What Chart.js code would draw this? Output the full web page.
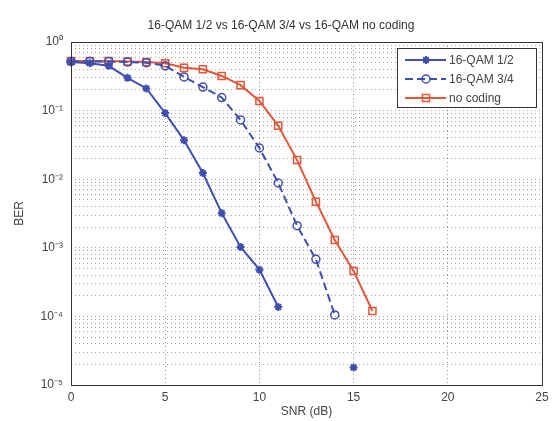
<!DOCTYPE html>
<html>
<head>
<meta charset="utf-8">
<script src="https://cdn.jsdelivr.net/npm/chart.js@4/dist/chart.umd.min.js"></script>
<style>
  body { margin: 0; background: #fff; }
  #ber_chart { display: block; }
</style>
</head>
<body>
<canvas id="ber_chart" width="557" height="421"></canvas>
<script>
// SNR (dB) and BER
var snrDb = [0, 1, 2, 3, 4, 5, 6, 7, 8, 9, 10, 11, 12, 13, 14, 15, 16];
var ber12 = [0.51, 0.49, 0.45, 0.30, 0.21, 0.092, 0.037, 0.0123, 0.0032, 0.00103, 0.00048, 0.000137, null, null, null, 0.000018, null];
var ber34 = [0.52, 0.52, 0.52, 0.51, 0.50, 0.45, 0.31, 0.22, 0.155, 0.073, 0.0285, 0.0088, 0.0021, 0.00068, 0.000105];
var berNoCoding = [0.53, 0.53, 0.53, 0.52, 0.51, 0.49, 0.42, 0.40, 0.32, 0.235, 0.138, 0.06, 0.019, 0.0047, 0.0013, 0.00046, 0.00012];

var xTicks = [0, 5, 10, 15, 20, 25];
var yDecades = [-5, -4, -3, -2, -1, 0];

var seriesNames = ['16-QAM 1/2', '16-QAM 3/4', 'no coding'];

function toPoints(vals) {
    var pts = [];
    for (let i = 0; i < vals.length; i++) {
        pts.push({ x: snrDb[i], y: vals[i] });
    }
    return pts;
}

var sup = { '-': '\u207B', '0': '\u2070', '1': '\u00B9', '2': '\u00B2', '3': '\u00B3', '4': '\u2074', '5': '\u2075' };
function powLabel(e) {
    var s = String(e), out = '';
    for (let i = 0; i < s.length; i++) out += sup[s[i]];
    return '10' + out;
}

// all log grid values: 1..9 x each decade
var yGrid = [];
for (let d = 0; d < yDecades.length; d++) {
    let e = yDecades[d];
    if (e === 0) { yGrid.push(1); break; }
    for (let k = 1; k <= 9; k++) yGrid.push(k * Math.pow(10, e));
}

var blue = '#3f4fb0';
var red = '#e2563a';
var fontFam = '"Liberation Sans", Arial, sans-serif';

// axes box + legend box
var boxPlugin = {
    id: 'boxPlugin',
    afterDraw: function (chart) {
        var ctx = chart.ctx, a = chart.chartArea;
        ctx.save();
        ctx.strokeStyle = '#333';
        ctx.lineWidth = 1;
        ctx.strokeRect(Math.round(a.left) + 0.5, Math.round(a.top) + 0.5, Math.round(a.right - a.left), Math.round(a.bottom - a.top));

        // legend
        var lx = 397, ly = 48, lw = 139, lh = 59;
        ctx.fillStyle = '#fff';
        ctx.fillRect(lx, ly, lw, lh);
        ctx.strokeRect(lx + 0.5, ly + 0.5, lw, lh);
        var rows = [60, 79, 98];
        ctx.font = '12px ' + fontFam;
        ctx.textBaseline = 'middle';
        chart.data.datasets.forEach(function (ds, i) {
            var y = rows[i];
            ctx.strokeStyle = ds.borderColor;
            ctx.lineWidth = ds.borderWidth;
            ctx.setLineDash(ds.borderDash || []);
            ctx.beginPath();
            ctx.moveTo(405, y);
            ctx.lineTo(446, y);
            ctx.stroke();
            ctx.setLineDash([]);
            ctx.fillStyle = ds.pointBackgroundColor;
            ctx.strokeStyle = ds.pointBorderColor;
            ctx.lineWidth = ds.pointBorderWidth;
            Chart.helpers.drawPoint(ctx, {
                pointStyle: ds.pointStyle,
                radius: ds.pointRadius,
                borderWidth: ds.pointBorderWidth
            }, 426, y);
            ctx.fillStyle = '#444';
            ctx.fillText(ds.label, 449, y + 1);
        });
        ctx.restore();
    }
};

const ctb = document.getElementById('ber_chart');
new Chart(ctb, {
    type: 'line',
    data: {
        datasets: [{
            label: seriesNames[0],
            data: toPoints(ber12),
            borderColor: blue,
            backgroundColor: blue,
            borderWidth: 2,
            pointStyle: 'star',
            pointRadius: 4,
            pointBorderWidth: 2,
            pointBorderColor: blue,
            pointBackgroundColor: blue,
            spanGaps: false,
            clip: false
        }, {
            label: seriesNames[1],
            data: toPoints(ber34),
            borderColor: blue,
            backgroundColor: 'rgba(0,0,0,0)',
            borderWidth: 2,
            borderDash: [8, 4],
            pointStyle: 'circle',
            pointRadius: 4,
            pointBorderWidth: 1.5,
            pointBorderColor: blue,
            pointBackgroundColor: 'rgba(0,0,0,0)',
            clip: false
        }, {
            label: seriesNames[2],
            data: toPoints(berNoCoding),
            borderColor: red,
            backgroundColor: 'rgba(0,0,0,0)',
            borderWidth: 2,
            pointStyle: 'rect',
            pointRadius: 5,
            pointBorderWidth: 1.5,
            pointBorderColor: red,
            pointBackgroundColor: 'rgba(0,0,0,0)',
            clip: false
        }]
    },
    options: {
        responsive: false,
        animation: false,
        devicePixelRatio: 1,
        layout: { padding: { left: 20, right: 15, top: 0, bottom: 0 } },
        plugins: {
            legend: { display: false },
            tooltip: { enabled: false },
            title: {
                display: true,
                text: '16-QAM 1/2 vs 16-QAM 3/4 vs 16-QAM no coding',
                color: '#333',
                font: { family: fontFam, size: 12, weight: 'normal' },
                padding: { top: 18, bottom: 9.6 }
            }
        },
        scales: {
            x: {
                type: 'linear',
                min: 0,
                max: 25,
                afterBuildTicks: function (scale) {
                    scale.ticks = xTicks.map(function (v) { return { value: v }; });
                },
                afterFit: function (scale) { scale.height = 36; },
                ticks: {
                    color: '#444',
                    padding: 5,
                    font: { family: fontFam, size: 12 }
                },
                grid: { color: 'rgba(60,60,60,0.55)', drawTicks: false },
                border: { display: false, dash: [1, 3] },
                title: {
                    display: true,
                    text: 'SNR (dB)',
                    color: '#444',
                    font: { family: fontFam, size: 12 },
                    padding: { top: 0, bottom: 2 }
                }
            },
            y: {
                type: 'logarithmic',
                min: 1e-5,
                max: 1,
                afterBuildTicks: function (scale) {
                    scale.ticks = yGrid.map(function (v) { return { value: v }; });
                },
                afterFit: function (scale) { scale.width = 51; },
                ticks: {
                    color: '#444',
                    padding: 8,
                    autoSkip: false,
                    font: { family: fontFam, size: 12 },
                    callback: function (v) {
                        var e = Math.log10(v);
                        if (Math.abs(e - Math.round(e)) < 1e-9) return powLabel(Math.round(e));
                        return '';
                    }
                },
                grid: { color: 'rgba(60,60,60,0.45)', drawTicks: false },
                border: { display: false, dash: [1, 3] },
                title: {
                    display: true,
                    text: 'BER',
                    color: '#444',
                    font: { family: fontFam, size: 12 },
                    padding: { top: -8, bottom: 0 }
                }
            }
        }
    },
    plugins: [boxPlugin]
});
</script>
</body>
</html>
